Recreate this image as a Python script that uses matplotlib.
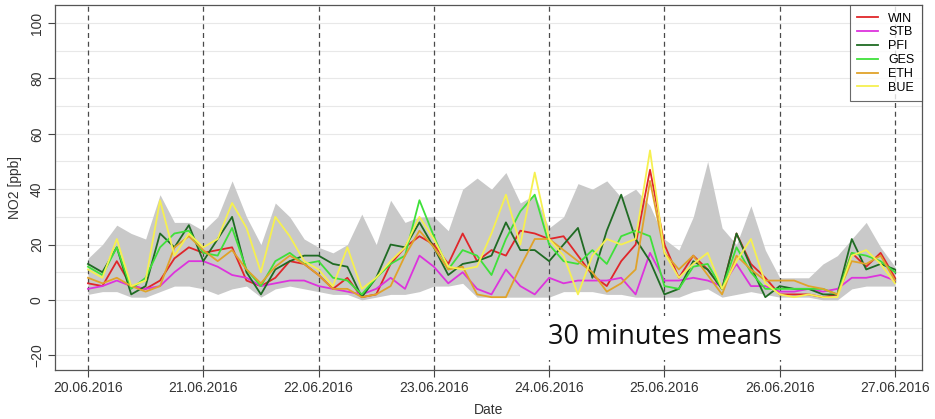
import numpy as np
import matplotlib
matplotlib.use('Agg')
import matplotlib.pyplot as plt
from matplotlib.patches import Rectangle
from datetime import datetime, timedelta

#   ///////   data (30 min means, read every 3 h)   ///////
start = datetime(2016, 6, 20)
hours = np.arange(57) * 3
times = [start + timedelta(hours=int(h)) for h in hours]
day_ticks = [start + timedelta(days=d) for d in range(8)]

win = [6, 5, 14, 5, 4, 7, 15, 19,
       17, 18, 19, 7, 5, 8, 14, 13,
       9, 4, 8, 1, 2, 13, 19, 23,
       20, 13, 24, 14, 18, 16, 25, 24,
       22, 23, 16, 9, 5, 14, 20, 47,
       20, 8, 16, 11, 4, 24, 13, 8,
       2, 2, 2, 1, 2, 17, 12, 17, 8]
stb = [4, 5, 7, 5, 4, 5, 10, 14,
       14, 12, 9, 8, 5, 6, 7, 7,
       5, 4, 3, 2, 4, 8, 4, 16,
       12, 6, 10, 4, 2, 11, 5, 2,
       8, 6, 7, 7, 7, 8, 2, 17,
       7, 7, 8, 7, 5, 13, 5, 5,
       3, 3, 4, 3, 4, 8, 8, 9, 7]
pfi = [13, 10, 19, 2, 5, 24, 19, 27,
       14, 22, 30, 10, 2, 11, 14, 16,
       16, 13, 12, 1, 8, 20, 19, 28,
       19, 9, 13, 14, 16, 28, 18, 18,
       14, 20, 26, 8, 25, 38, 22, 14,
       2, 4, 14, 11, 4, 24, 12, 1,
       5, 4, 4, 2, 2, 22, 11, 13, 11]
ges = [12, 9, 19, 4, 8, 19, 24, 25,
       17, 16, 26, 11, 5, 14, 17, 13,
       14, 8, 7, 2, 8, 13, 16, 36,
       23, 11, 18, 16, 9, 22, 32, 38,
       20, 14, 13, 18, 13, 23, 25, 23,
       5, 4, 12, 13, 4, 19, 10, 4,
       4, 4, 4, 4, 2, 17, 16, 14, 10]
eth = [8, 6, 8, 5, 3, 5, 19, 23,
       18, 14, 18, 11, 6, 12, 16, 13,
       9, 4, 4, 1, 2, 5, 16, 25,
       19, 11, 12, 2, 1, 1, 12, 22,
       22, 18, 14, 10, 3, 6, 11, 43,
       17, 11, 16, 9, 2, 16, 11, 7,
       7, 7, 5, 4, 2, 14, 13, 16, 7]
bue = [11, 8, 22, 5, 7, 36, 16, 24,
       19, 22, 35, 26, 10, 30, 23, 14,
       11, 5, 19, 4, 8, 14, 19, 30,
       22, 12, 11, 12, 24, 38, 20, 46,
       22, 16, 2, 16, 22, 20, 22, 54,
       17, 8, 13, 17, 4, 14, 22, 6,
       2, 1, 2, 1, 1, 16, 18, 13, 6]
band_hi = [15, 20, 27, 24, 22, 38, 28, 28,
           25, 30, 43, 30, 20, 35, 30, 22,
           19, 17, 20, 31, 20, 36, 28, 30,
           30, 25, 40, 44, 40, 46, 35, 38,
           26, 30, 42, 40, 43, 37, 40, 34,
           22, 18, 30, 50, 26, 20, 34, 18,
           8, 8, 8, 13, 16, 22, 28, 19, 12]
band_lo = [2, 3, 3, 1, 1, 3, 5, 5,
           4, 2, 4, 5, 1, 4, 5, 4,
           3, 2, 2, 0, 1, 2, 2, 3,
           5, 5, 6, 1, 1, 1, 1, 1,
           1, 3, 3, 3, 2, 2, 1, 1,
           1, 1, 3, 4, 1, 2, 3, 2,
           1, 1, 1, 0, 0, 4, 5, 5, 5]

stations = ['WIN', 'STB', 'PFI', 'GES', 'ETH', 'BUE']
series = [win, stb, pfi, ges, eth, bue]
colors = ['#e0262a', '#dd33dd', '#1f6b23', '#3fe03a', '#e0a32a', '#f6f050']

#   ///////   plot   ///////
fig = plt.figure(figsize=(9.35, 4.19), dpi=100)
plt.rcParams['font.family'] = ['Liberation Sans', 'DejaVu Sans']
ax = fig.add_axes([55/935, 49/419, 867/935, 365/419])

for v in range(-20, 101, 10):
    ax.axhline(v, color='#e8e8e8', lw=0.8, zorder=0)

ax.fill_between(times, band_lo, band_hi, color='#c9c9c9', lw=0, zorder=1)

for d in day_ticks:
    ax.axvline(d, color='#4a4a4a', lw=0.9, ls=(0, (4, 3)), zorder=2)

for name, vals, c in zip(stations, series, colors):
    ax.plot(times, vals, color=c, lw=1.3, label=name, zorder=3)

ax.set_xlim(start - timedelta(days=0.286), start + timedelta(days=7.234))
ax.set_ylim(-25.3, 106.5)
ax.set_xticks(day_ticks)
ax.set_xticklabels([d.strftime('%d.%m.%Y') for d in day_ticks])
ax.set_yticks(range(-20, 101, 20))
ax.set_yticklabels([str(v) if v >= 0 else '\u221220' for v in range(-20, 101, 20)],
                   rotation=90, va='center')
ax.tick_params(direction='out', length=5, color='#444', labelsize=10,
               labelcolor='#333', pad=3)
for s in ax.spines.values():
    s.set_color('#555')
    s.set_linewidth(0.9)

ax.set_xlabel('Date', fontsize=10, color='#333', labelpad=6)
ax.set_ylabel('NO2 [ppb]', fontsize=10, color='#333', labelpad=6)

leg = ax.legend(loc='upper right', borderaxespad=0, fancybox=False,
                edgecolor='#444', fontsize=9, handlelength=1.7,
                labelspacing=0.15, borderpad=0.6, handletextpad=0.8)
leg.get_frame().set_linewidth(0.8)

# overlay label
fig.patches.append(Rectangle((520/935, 1 - 360/419), 290/935, 44/419,
                             transform=fig.transFigure, facecolor='white',
                             edgecolor='none', zorder=5))
fig.text(548/935, 1 - 337/419, '30 minutes means', fontsize=19.5,
         family='Open Sans', va='center', ha='left', color='#111', zorder=6)

fig.savefig('out.png', dpi=100)
